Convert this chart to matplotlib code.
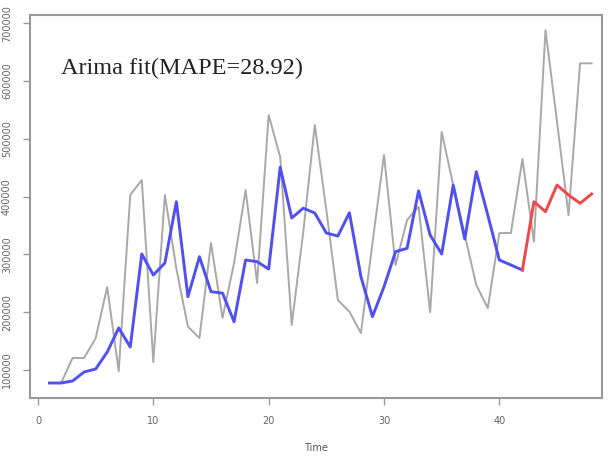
import matplotlib.pyplot as plt
import numpy as np

# observed series (grey), fitted values (blue) and forecast (red)
time = np.arange(1, 49)
observed = [77500, 77500, 120800, 120800, 155000, 243600, 98000, 402800, 428700, 113800,
            402800, 275000, 175000, 155400, 319700, 190000, 285000, 411400, 250500, 541000,
            468500, 177900, 338700, 523900, 376800, 221000, 200900, 164000, 319700, 472000,
            281700, 359500, 382600, 200000, 512000, 420000, 333600, 247000, 207000, 337000,
            337000, 465000, 322000, 688000, 529600, 368000, 630600, 630600]
fit_time = np.arange(1, 43)
fitted = [77500, 77500, 81000, 96500, 101700, 131000, 172700, 139800, 300700, 264400,
          285000, 391200, 226800, 296000, 235500, 233000, 183600, 290300, 287400, 274700,
          450700, 363000, 380000, 371600, 337000, 331800, 372000, 261500, 192300, 244000,
          304700, 310500, 410000, 333600, 300700, 420000, 326600, 443100, 368000, 290300,
          281700, 273000]
fc_time = np.arange(42, 49)
forecast = [273000, 391200, 373900, 420000, 402800, 388400, 404500]

xticks = [0, 10, 20, 30, 40]
yticks = [100000, 200000, 300000, 400000, 500000, 600000, 700000]

fig = plt.figure(figsize=(6.09, 4.67), dpi=100)
ax = fig.add_axes([0.0493, 0.1478, 0.9392, 0.8201])

ax.plot(time, observed, color='#a8a8a8', linewidth=1.4)
ax.plot(fit_time, fitted, color='#5050f2', linewidth=2.1)
ax.plot(fc_time, forecast, color='#f04848', linewidth=2.1)

ax.set_xlim(-0.69, 48.9)
ax.set_ylim(51600, 714200)
ax.set_xticks(xticks)
ax.set_yticks(yticks)
ax.set_xticklabels([str(t) for t in xticks], fontsize=7, color='#666666')
ax.set_yticklabels([str(t) for t in yticks], fontsize=7, color='#666666',
                   rotation=90, va='center')
ax.tick_params(colors='#999999', length=5, width=1, labelcolor='#666666')
ax.tick_params(axis='x', pad=8)
ax.tick_params(axis='y', pad=8)
for s in ax.spines.values():
    s.set_color('#999999')
    s.set_linewidth(1.5)

ax.set_xlabel('Time', fontsize=7, color='#555555', labelpad=12)

ax.text(0.055, 0.86, 'Arima fit(MAPE=28.92)', transform=ax.transAxes,
        fontsize=17.5, family='Liberation Serif', color='#222222', va='center')

fig.savefig('out.png', dpi=100)
